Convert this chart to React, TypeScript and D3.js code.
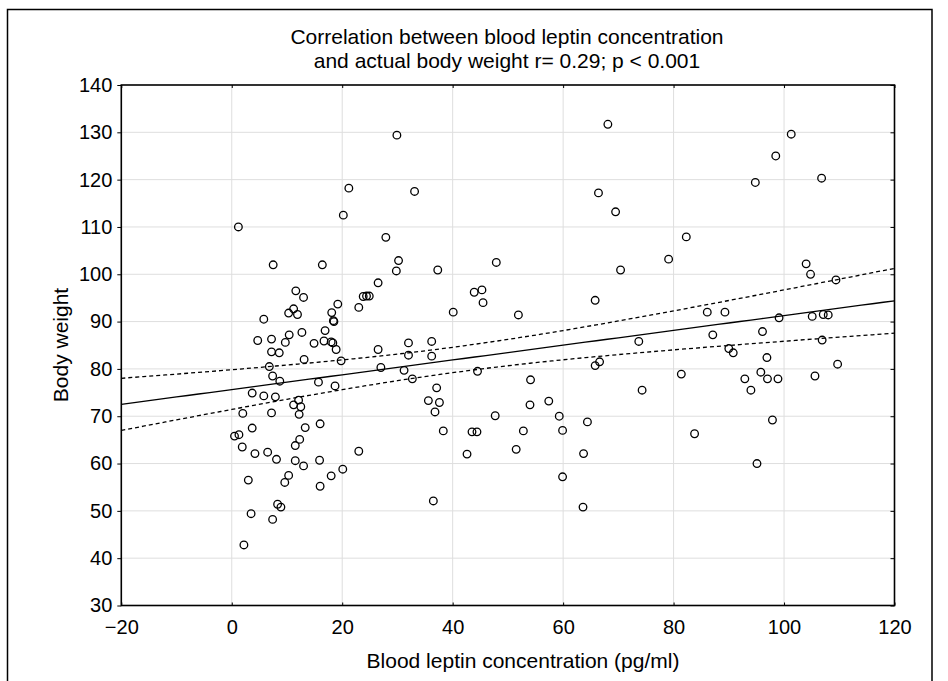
import React, { useEffect, useRef } from "react";
import * as d3 from "d3";

// leptin (pg/ml) and body weight (kg)
const leptin = [
  1.2, 7.5, 16.4, 21.2, 20.2, 27.9, 26.5, 11.6, 13.0, 19.2, 23.8, 24.4, 24.9, 23.0, 11.2, 10.3,
  11.9, 18.1, 18.4, 18.5, 5.8, 16.9, 10.4, 12.7, 4.7, 7.2, 9.7, 14.9, 16.7, 18.0, 18.3, 18.9,
  26.5, 7.2, 8.6, 13.1, 19.8, 6.8, 27.0, 7.4, 8.7, 15.7, 18.7, 3.7, 5.8, 7.9, 12.1, 11.2,
  12.5, 2.0, 7.2, 12.2, 16.0, 3.7, 13.3, 0.5, 1.3, 12.3, 1.9, 11.5, 23.0, 4.2, 6.5, 8.1,
  11.5, 15.9, 13.0, 20.1, 3.0, 10.3, 9.6, 18.0, 16.0, 8.3, 8.9, 3.5, 7.4, 2.2,
  29.9, 33.1, 30.2, 29.8, 37.3, 47.9, 43.9, 45.3, 45.5, 40.1, 51.9, 68.1, 66.4, 69.5, 70.4, 65.8,
  32.0, 36.2, 32.0, 36.2, 73.7,
  31.2, 32.7, 44.5, 37.1, 35.6, 37.6, 36.8, 38.3, 43.5, 44.4, 42.6, 36.5, 47.7, 54.1, 54.0, 52.8,
  51.5, 57.4, 59.3, 59.9, 64.4, 63.7, 59.9, 63.6, 65.8, 66.6, 74.3,
  101.3, 98.5, 94.8, 106.8, 82.3, 79.1, 104.0, 104.8, 109.4, 86.1, 89.3, 99.1, 105.1, 107.1, 108.0, 87.1,
  96.1, 106.9, 90.0, 90.8, 96.9,
  109.7, 81.4, 92.9, 95.8, 97.0, 98.9, 105.6, 94.0, 97.9, 83.8, 95.1
];
const weight = [
  110.0, 102.0, 102.0, 118.2, 112.5, 107.8, 98.2, 96.5, 95.1, 93.7, 95.3, 95.4, 95.4, 93.0, 92.7, 91.8,
  91.5, 91.9, 90.2, 90.0, 90.5, 88.1, 87.2, 87.7, 86.0, 86.3, 85.6, 85.4, 85.9, 85.7, 85.5, 84.1,
  84.1, 83.6, 83.4, 82.0, 81.7, 80.5, 80.3, 78.5, 77.4, 77.2, 76.4, 74.9, 74.3, 74.1, 73.4, 72.4,
  72.0, 70.6, 70.7, 70.4, 68.4, 67.5, 67.6, 65.8, 66.1, 65.1, 63.5, 63.8, 62.6, 62.1, 62.4, 60.9,
  60.6, 60.7, 59.5, 58.8, 56.5, 57.5, 56.0, 57.4, 55.2, 51.4, 50.8, 49.4, 48.2, 42.8,
  129.4, 117.5, 102.9, 100.7, 100.9, 102.5, 96.2, 96.7, 94.0, 92.0, 91.4, 131.7, 117.2, 113.2, 100.9, 94.5,
  85.5, 85.8, 82.9, 82.7, 85.8,
  79.7, 77.9, 79.5, 76.0, 73.3, 72.9, 70.9, 66.9, 66.7, 66.7, 62.0, 52.1, 70.1, 77.7, 72.4, 66.9,
  63.0, 73.2, 70.0, 67.0, 68.8, 62.1, 57.2, 50.8, 80.7, 81.5, 75.5,
  129.6, 125.0, 119.4, 120.3, 107.9, 103.2, 102.2, 100.0, 98.8, 92.0, 92.0, 90.8, 91.1, 91.5, 91.4, 87.2,
  87.9, 86.1, 84.3, 83.4, 82.4,
  81.0, 78.9, 77.9, 79.3, 77.9, 77.9, 78.5, 75.5, 69.2, 66.3, 60.0
];

const xTicks = [-20, 0, 20, 40, 60, 80, 100, 120];
const yTicks = [30, 40, 50, 60, 70, 80, 90, 100, 110, 120, 130, 140];

const titleLines = [
  "Correlation between blood leptin concentration",
  "and actual body weight r= 0.29; p < 0.001"
];

const FONT = "'Liberation Sans', Arial, Helvetica, sans-serif";

const App = () => {
  const svgRef = useRef(null);

  useEffect(() => {
    const svg = d3.select(svgRef.current);
    svg.selectAll("*").remove();

    const left = 121.3, right = 894.5, top = 85, bottom = 605.5;
    const x = d3.scaleLinear().domain([-20, 120]).range([left, right]);
    const y = d3.scaleLinear().domain([30, 140]).range([bottom, top]);

    // outer frame (no bottom edge visible)
    svg.append("path")
      .attr("d", "M7.5,700 V9.5 H932 V700")
      .attr("fill", "none")
      .attr("stroke", "#000")
      .attr("stroke-width", 1.5);

    // title
    svg.append("g")
      .selectAll("text")
      .data(titleLines)
      .join("text")
      .attr("x", 507)
      .attr("y", (d, i) => 44 + i * 24)
      .attr("text-anchor", "middle")
      .attr("font-family", FONT)
      .attr("font-size", 21)
      .text((d) => d);

    // grid
    const grid = svg.append("g").attr("stroke", "#dedede").attr("stroke-width", 1);
    grid.selectAll(".vx").data(xTicks.slice(1, -1)).join("line")
      .attr("x1", (d) => x(d)).attr("x2", (d) => x(d))
      .attr("y1", top).attr("y2", bottom);
    grid.selectAll(".hy").data(yTicks.slice(1, -1)).join("line")
      .attr("x1", left).attr("x2", right)
      .attr("y1", (d) => y(d)).attr("y2", (d) => y(d));

    // regression + 95% confidence band, from the points
    const n = leptin.length;
    const mx = d3.mean(leptin), my = d3.mean(weight);
    let sxx = 0, sxy = 0;
    leptin.forEach((v, i) => {
      sxx += (v - mx) ** 2;
      sxy += (v - mx) * (weight[i] - my);
    });
    const slope = sxy / sxx;
    const icpt = my - slope * mx;
    const sse = d3.sum(leptin, (v, i) => (weight[i] - (icpt + slope * v)) ** 2);
    const s = Math.sqrt(sse / (n - 2));
    const t = 1.975;
    const xs = d3.range(-20, 120.01, 2);
    const half = (v) => t * s * Math.sqrt(1 / n + (v - mx) ** 2 / sxx);

    const line = d3.line().x((d) => x(d[0])).y((d) => y(d[1]));
    const lines = svg.append("g").attr("fill", "none").attr("stroke", "#000").attr("stroke-width", 1.3);
    lines.append("path").attr("d", line(xs.map((v) => [v, icpt + slope * v])));
    lines.append("path").attr("stroke-dasharray", "4,3")
      .attr("d", line(xs.map((v) => [v, icpt + slope * v + half(v)])));
    lines.append("path").attr("stroke-dasharray", "4,3")
      .attr("d", line(xs.map((v) => [v, icpt + slope * v - half(v)])));

    // points
    svg.append("g")
      .selectAll("circle")
      .data(leptin)
      .join("circle")
      .attr("cx", (d) => x(d))
      .attr("cy", (d, i) => y(weight[i]))
      .attr("r", 3.8)
      .attr("fill", "none")
      .attr("stroke", "#000")
      .attr("stroke-width", 1.3);

    // axes
    const styleAxis = (g) => {
      g.attr("font-family", FONT).attr("font-size", 20);
      g.select(".domain").remove();
      g.selectAll(".tick line").attr("stroke", "#000");
      g.selectAll(".tick text").attr("fill", "#000");
    };
    svg.append("g")
      .attr("transform", `translate(0,${bottom})`)
      .call(d3.axisBottom(x).tickValues(xTicks).tickFormat((d) => (d < 0 ? "\u2212" + Math.abs(d) : d))
        .tickSizeInner(-3).tickSizeOuter(0).tickPadding(14))
      .call(styleAxis);
    svg.append("g")
      .attr("transform", `translate(${left},0)`)
      .call(d3.axisLeft(y).tickValues(yTicks).tickSizeInner(4).tickSizeOuter(0).tickPadding(5))
      .call(styleAxis);
    svg.append("g")
      .attr("transform", `translate(0,${top})`)
      .call(d3.axisTop(x).tickValues(xTicks).tickFormat("").tickSizeInner(-3).tickSizeOuter(0))
      .call(styleAxis);
    svg.append("g")
      .attr("transform", `translate(${right},0)`)
      .call(d3.axisRight(y).tickValues(yTicks).tickFormat("").tickSizeInner(-4).tickSizeOuter(0))
      .call(styleAxis);

    // plot box
    svg.append("rect")
      .attr("x", left).attr("y", top)
      .attr("width", right - left).attr("height", bottom - top)
      .attr("fill", "none").attr("stroke", "#000").attr("stroke-width", 1.6);

    // axis titles
    svg.append("text")
      .attr("x", 523).attr("y", 668)
      .attr("text-anchor", "middle")
      .attr("font-family", FONT).attr("font-size", 21)
      .text("Blood leptin concentration (pg/ml)");
    svg.append("text")
      .attr("transform", "translate(68,345) rotate(-90)")
      .attr("text-anchor", "middle")
      .attr("font-family", FONT).attr("font-size", 21)
      .text("Body weight");
  }, []);

  return (
    <svg
      ref={svgRef}
      width={948}
      height={681}
      style={{ position: "absolute", left: 0, top: 0, background: "#fff" }}
    />
  );
};

export default App;
